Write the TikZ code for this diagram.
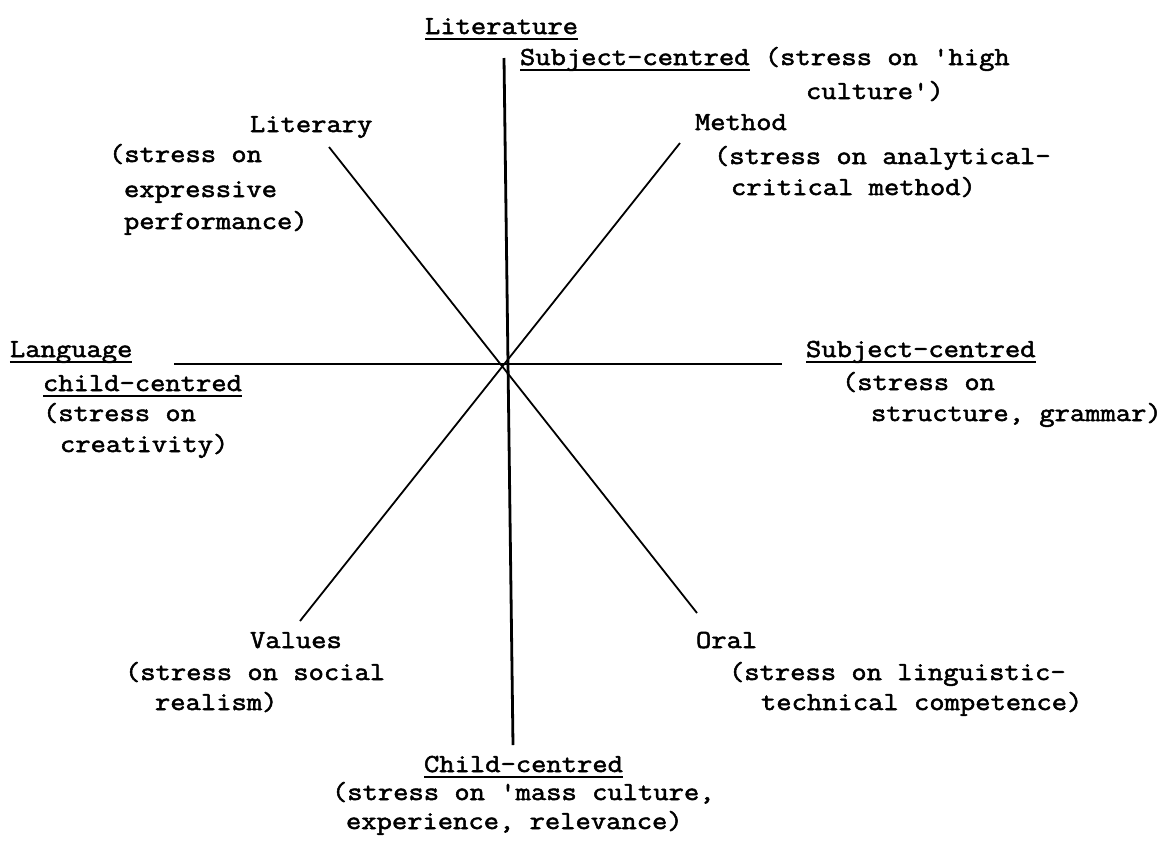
\documentclass[tikz,border=0pt]{standalone}
\usepackage{fontspec}
\newfontfamily\twfont{Latin Modern Mono}[FakeStretch=1.143,FakeBold=2]
\newcommand\ulx[1]{\setbox0\hbox{#1}\rlap{\rule[-2.8pt]{\wd0}{0.8pt}}\box0\relax}
\tikzset{
  lbl/.style={font=\twfont\fontsize{13pt}{16pt}\selectfont, anchor=base west, inner sep=0pt, outer sep=0pt},
  axisv/.style={line width=1.4pt},
  axish/.style={line width=1.2pt},
  diag/.style={line width=0.9pt}
}
\begin{document}
\begin{tikzpicture}[x=0.5pt,y=-0.5pt]
\useasboundingbox (0,0) rectangle (1174,842);
% axis end points
\coordinate (vt) at (504,58);
\coordinate (vb) at (513,745);
\coordinate (hl) at (174,364);
\coordinate (hr) at (782,364);
\coordinate (lit) at (329,147);
\coordinate (oral) at (697,613);
\coordinate (meth) at (680,143);
\coordinate (val) at (300,621);
\draw[axisv] (vt) -- (vb);
\draw[axish] (hl) -- (hr);
\draw[diag] (lit) -- (oral);
\draw[diag] (meth) -- (val);
% top
\node[lbl] (t1) at (425,34) {\ulx{Literature}};
\node[lbl] (t2) at (520,65) {\ulx{Subject-centred} (stress on 'high};
\node[lbl] (t3) at (806,99) {culture')};
% literary
\node[lbl] (l1) at (250,132) {Literary};
\node[lbl] (l2) at (109,162) {(stress on};
\node[lbl] (l3) at (124,197) {expressive};
\node[lbl] (l4) at (124,229) {performance)};
% method
\node[lbl] (m1) at (695,130) {Method};
\node[lbl] (m2) at (714,164) {(stress on analytical-};
\node[lbl] (m3) at (731,195) {critical method)};
% language
\node[lbl] (g1) at (10,357) {\ulx{Language}};
\node[lbl] (g2) at (43,391) {\ulx{child-centred}};
\node[lbl] (g3) at (43,421) {(stress on};
\node[lbl] (g4) at (60,452) {creativity)};
% right subject-centred
\node[lbl] (s1) at (806,357) {\ulx{Subject-centred}};
\node[lbl] (s2) at (842,390) {(stress on};
\node[lbl] (s3) at (871,421) {structure, grammar)};
% values
\node[lbl] (v1) at (250,648) {Values};
\node[lbl] (v2) at (125,680) {(stress on social};
\node[lbl] (v3) at (155,710) {realism)};
% oral
\node[lbl] (o1) at (696,648) {Oral};
\node[lbl] (o2) at (729,680) {(stress on linguistic-};
\node[lbl] (o3) at (761,710) {technical competence)};
% bottom
\node[lbl] (b1) at (424,772) {\ulx{Child-centred}};
\node[lbl] (b2) at (332,800) {(stress on 'mass culture,};
\node[lbl] (b3) at (346,829) {experience, relevance)};
\end{tikzpicture}
\end{document}
